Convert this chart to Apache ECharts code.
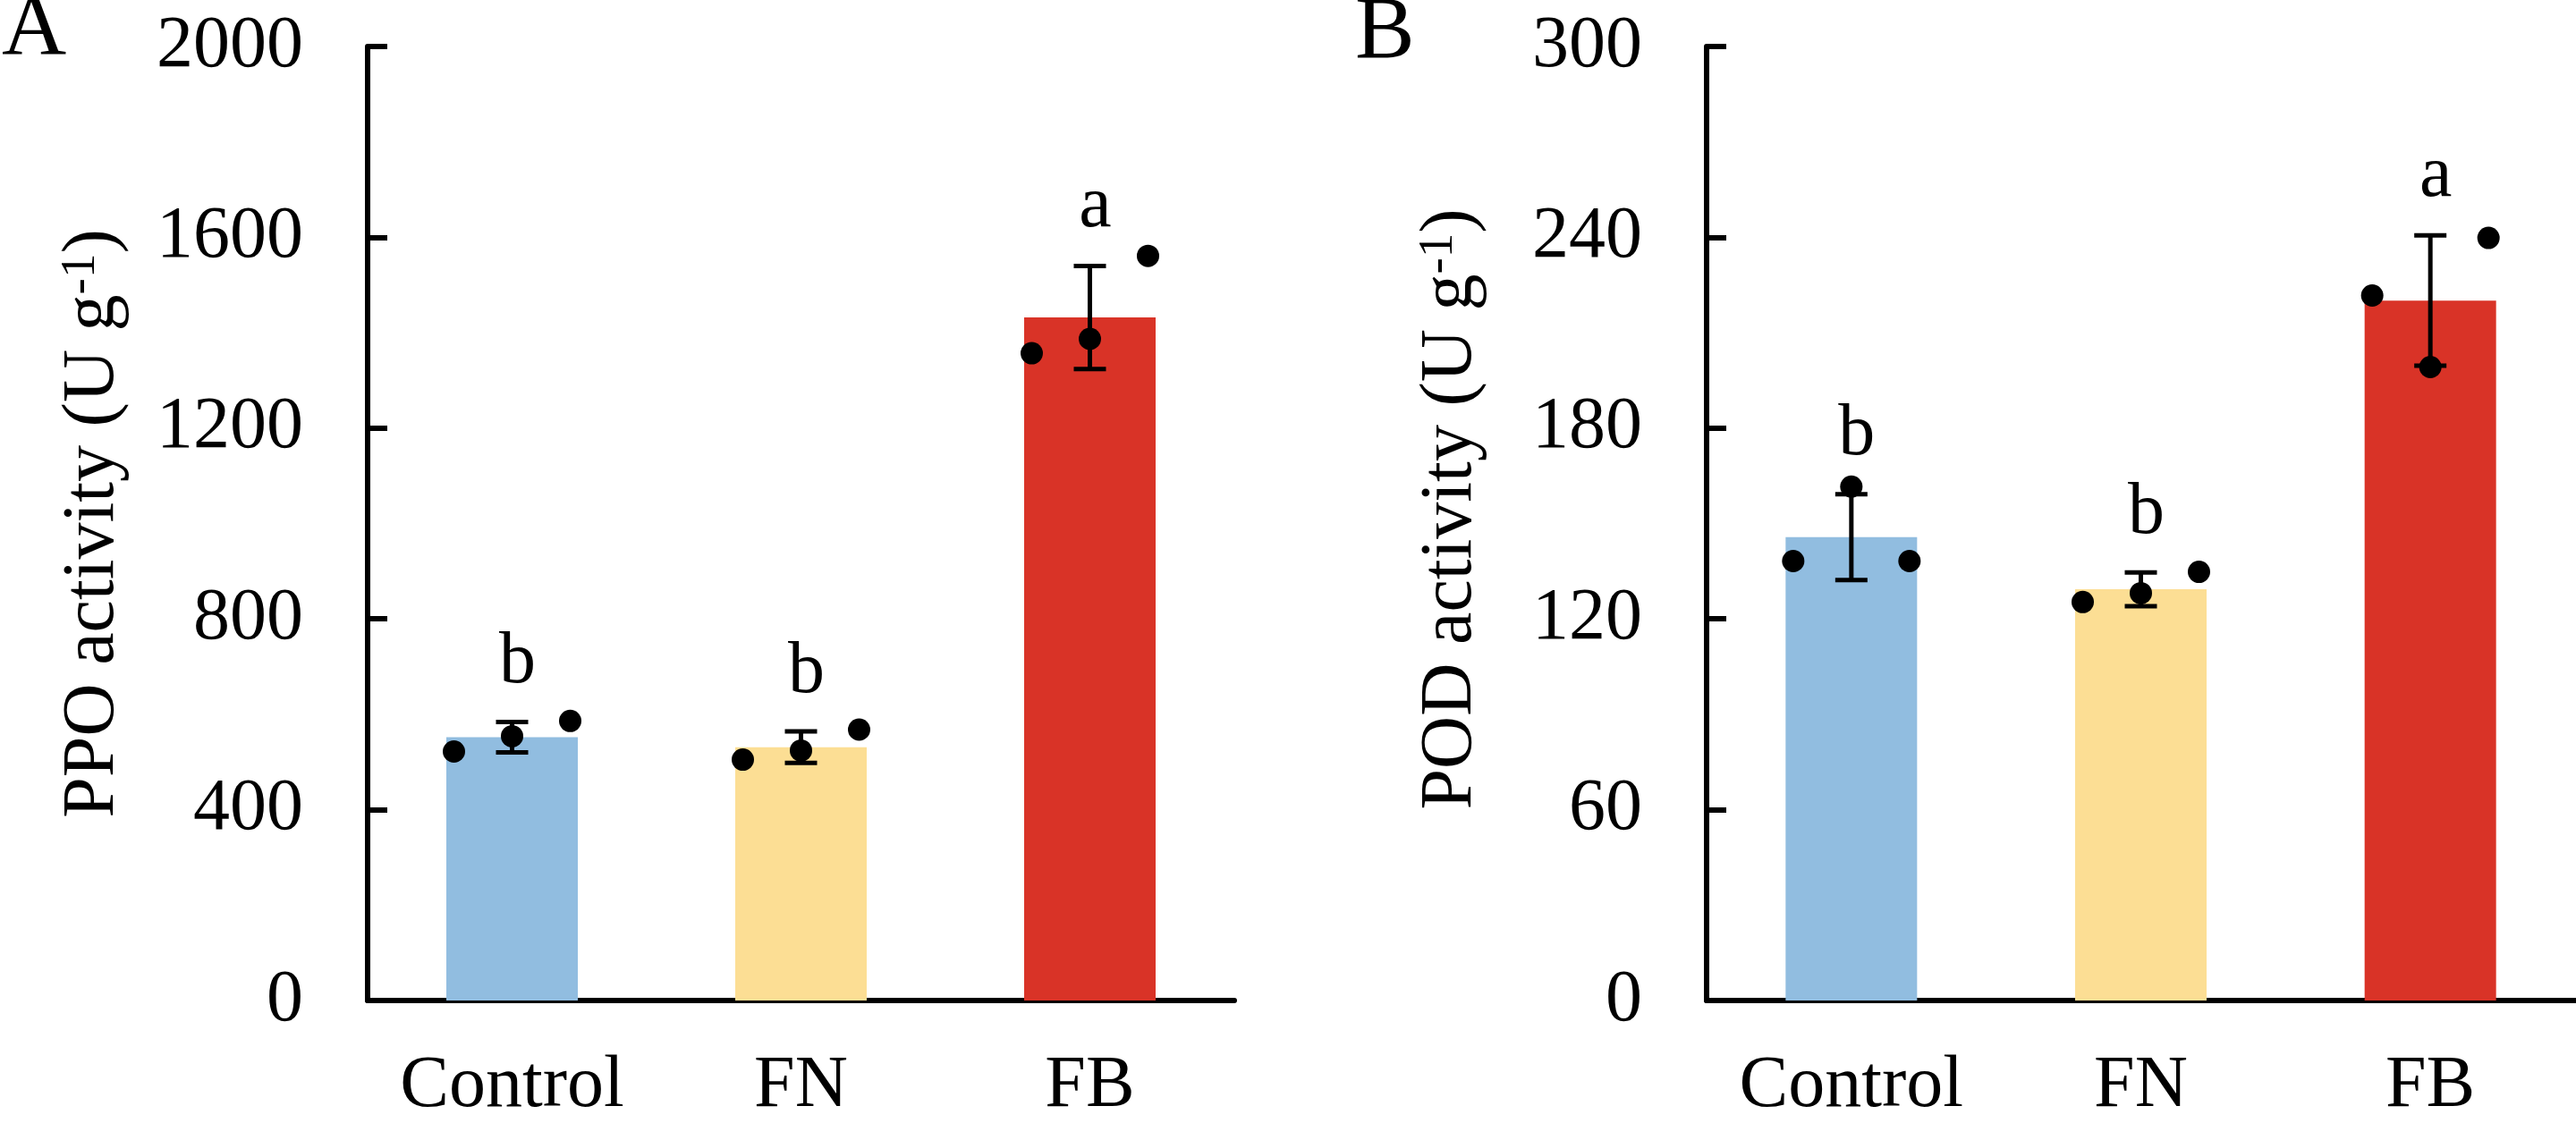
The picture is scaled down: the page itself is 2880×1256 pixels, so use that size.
<!DOCTYPE html>
<html>
<head>
<meta charset="utf-8">
<script src="https://cdn.jsdelivr.net/npm/echarts@6/dist/echarts.min.js"></script>
<style>
  html, body { margin: 0; padding: 0; background: #fff; }
  #chart { width: 2880px; height: 1256px; }
</style>
</head>
<body>
<div id="chart"></div>
<script>
// ---- data ----
const categories = ['Control', 'FN', 'FB'];

const ppoMean = [552, 531, 1432];
const ppoErr = [32, 33, 108];
const ppoDotLeft = [522, 505, 1357];
const ppoDotMid = [554, 524, 1387];
const ppoDotRight = [586, 568, 1561];
const ppoLetters = ['b', 'b', 'a'];

const podMean = [145.7, 129.3, 220.1];
const podErr = [13.5, 5.3, 20.5];
const podDotLeft = [138.2, 125.3, 221.7];
const podDotMid = [161.6, 128.1, 199.2];
const podDotRight = [138.2, 134.8, 239.8];
const podLetters = ['b', 'b', 'a'];

const ppoTicks = { min: 0, max: 2000, interval: 400 };
const podTicks = { min: 0, max: 300, interval: 60 };

// ---- styles ----
const FONT = 'Liberation Serif';
const barColors = ['#91BDE0', '#FCDE94', '#D93327'];
const FS = 82;

function errRender(params, api) {
  const x = api.value(0), m = api.value(1), e = api.value(2);
  const top = api.coord([x, m + e]);
  const bot = api.coord([x, m - e]);
  const hw = 18;
  const st = { stroke: '#000', lineWidth: 5 };
  return {
    type: 'group',
    children: [
      { type: 'line', shape: { x1: top[0], y1: top[1], x2: bot[0], y2: bot[1] }, style: st },
      { type: 'line', shape: { x1: top[0] - hw, y1: top[1], x2: top[0] + hw, y2: top[1] }, style: st },
      { type: 'line', shape: { x1: bot[0] - hw, y1: bot[1], x2: bot[0] + hw, y2: bot[1] }, style: st }
    ]
  };
}

function letterRender(letters) {
  return function (params, api) {
    const x = api.value(0), m = api.value(1), e = api.value(2);
    const top = api.coord([x, m + e]);
    return {
      type: 'text',
      x: top[0] + 6,
      y: top[1] - 38 - 28,
      style: {
        text: letters[params.dataIndex],
        fontSize: FS,
        fontFamily: FONT,
        fill: '#000',
        align: 'center',
        verticalAlign: 'middle'
      }
    };
  };
}

function panelSeries(idx, mean, err, dl, dm, dr, letters) {
  const errData = mean.map((v, i) => [i, v, err[i]]);
  const dot = (arr, off) => ({
    type: 'scatter',
    xAxisIndex: idx, yAxisIndex: idx,
    data: arr,
    symbol: 'circle',
    symbolSize: 25,
    symbolOffset: [off, 0],
    itemStyle: { color: '#000', opacity: 1 },
    z: 5,
    silent: true
  });
  return [
    {
      type: 'bar',
      xAxisIndex: idx, yAxisIndex: idx,
      barWidth: 147,
      data: mean.map((v, i) => ({ value: v, itemStyle: { color: barColors[i] } })),
      z: 2,
      silent: true
    },
    {
      type: 'custom',
      xAxisIndex: idx, yAxisIndex: idx,
      data: errData,
      encode: { x: 0, y: 1 },
      renderItem: errRender,
      z: 4,
      silent: true
    },
    dot(dl, -65),
    dot(dm, 0),
    dot(dr, 65),
    {
      type: 'custom',
      xAxisIndex: idx, yAxisIndex: idx,
      data: errData,
      encode: { x: 0, y: 1 },
      renderItem: letterRender(letters),
      z: 6,
      silent: true
    }
  ];
}

function xAxis(idx) {
  return {
    type: 'category',
    gridIndex: idx,
    data: categories,
    axisLine: { lineStyle: { color: '#000', width: 6 } },
    axisTick: { show: false },
    axisLabel: {
      interval: 0,
      margin: 55,
      fontSize: FS,
      lineHeight: FS,
      fontFamily: FONT,
      color: '#000'
    },
    splitLine: { show: false }
  };
}

function yAxis(idx, ticks, label, nameGap, padLeft) {
  return {
    type: 'value',
    gridIndex: idx,
    min: ticks.min, max: ticks.max, interval: ticks.interval,
    name: label,
    nameLocation: 'middle',
    nameGap: nameGap,
    nameTextStyle: {
      color: '#000',
      fontFamily: FONT,
      fontSize: FS,
      padding: [0, 0, 0, padLeft],
      rich: {
        n: { fontSize: FS, fontFamily: FONT, lineHeight: FS, color: '#000', verticalAlign: 'bottom' },
        s: { fontSize: 55, fontFamily: FONT, lineHeight: 55, color: '#000', verticalAlign: 'top' }
      }
    },
    axisLine: { show: true, lineStyle: { color: '#000', width: 6 } },
    axisTick: { show: true, inside: true, length: 22, lineStyle: { color: '#000', width: 6 } },
    axisLabel: {
      margin: 72,
      fontSize: FS,
      fontFamily: FONT,
      color: '#000',
      formatter: (v) => String(v)
    },
    splitLine: { show: false }
  };
}

const chart = echarts.init(document.getElementById('chart'), null, { renderer: 'canvas' });
chart.setOption({
  animation: false,
  backgroundColor: '#fff',
  grid: [
    { left: 411, right: 1500, top: 52, bottom: 126.5 },
    { left: 1908, right: 1, top: 52, bottom: 126.5 }
  ],
  xAxis: [xAxis(0), xAxis(1)],
  yAxis: [
    yAxis(0, ppoTicks, '{n|PPO activity (U g}{s|-1}{n|)}', 266, 0),
    yAxis(1, podTicks, '{n|POD activity (U g}{s|-1}{n|)}', 245, 32)
  ],
  graphic: [
    { type: 'text', x: 2, y: 35, style: { text: 'A', fontSize: 100, fontFamily: FONT, fill: '#000', align: 'left', verticalAlign: 'middle' } },
    { type: 'text', x: 1515, y: 38, style: { text: 'B', fontSize: 100, fontFamily: FONT, fill: '#000', align: 'left', verticalAlign: 'middle' } }
  ],
  series: [
    ...panelSeries(0, ppoMean, ppoErr, ppoDotLeft, ppoDotMid, ppoDotRight, ppoLetters),
    ...panelSeries(1, podMean, podErr, podDotLeft, podDotMid, podDotRight, podLetters)
  ]
});
</script>
</body>
</html>
